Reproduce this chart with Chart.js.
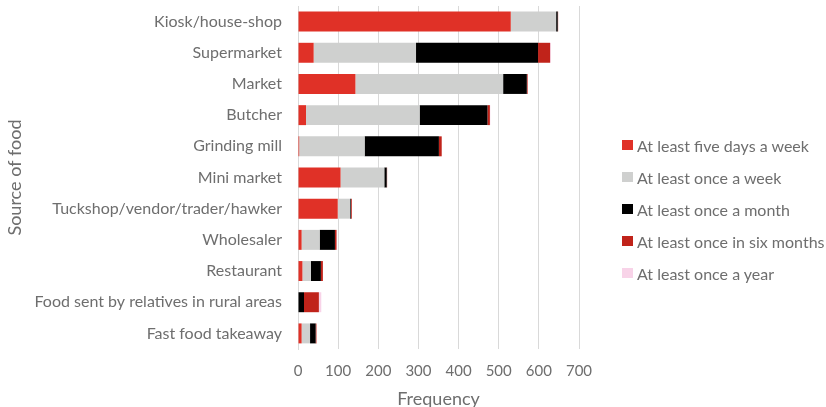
<!DOCTYPE html>
<html>
<head>
<meta charset="utf-8">
<script src="https://cdn.jsdelivr.net/npm/chart.js@4"></script>
<style>
  html, body { margin: 0; padding: 0; background: #fff; }
  #wrap { width: 826px; height: 407px; position: relative; }
  #legend { position: absolute; left: 622px; top: 129px; font-family: Lato, sans-serif; font-size: 16px; color: #6e6e6e; }
  #legend div { height: 32.1px; display: flex; align-items: center; white-space: nowrap; }
  #legend span.box { display: inline-block; width: 11px; height: 10px; margin-right: 4px; }
</style>
</head>
<body>
<div id="wrap"><canvas id="foodChart"></canvas><div id="legend"></div></div>
<script>
// sources of food (top to bottom)
const sources = ["Kiosk/house-shop", "Supermarket", "Market", "Butcher", "Grinding mill", "Mini market",
  "Tuckshop/vendor/trader/hawker", "Wholesaler", "Restaurant", "Food sent by relatives in rural areas", "Fast food takeaway"];

// frequency of use
const fiveDaysWeek = [530, 39, 143, 20, 3, 106, 99, 9, 11, 0, 9];
const onceWeek = [113, 255, 368, 283, 163, 109, 31, 45, 21, 0, 21];
const onceMonth = [4, 304, 59, 169, 185, 6, 2, 38, 25, 15, 14];
const onceSixMonths = [1, 30, 2, 6, 7, 1, 2, 4, 5, 37, 2];
const onceYear = [0, 2, 1, 1, 0, 0, 0, 1, 0, 6, 0];

const seriesNames = ["At least five days a week", "At least once a week", "At least once a month",
  "At least once in six months", "At least once a year"];
const seriesColours = ["#e03127", "#cfd0cf", "#000000", "#c0231a", "#f8d3e8"];

const freqTicks = [0, 100, 200, 300, 400, 500, 600, 700];

const textGrey = "#6e6e6e";
const fontName = "Lato";

const allSeries = [fiveDaysWeek, onceWeek, onceMonth, onceSixMonths, onceYear];

const chart = new Chart("foodChart", {
  type: "bar",
  data: {
    labels: sources,
    datasets: allSeries.map((vals, i) => ({
      label: seriesNames[i],
      data: vals,
      backgroundColor: seriesColours[i],
      borderWidth: 0,
      barPercentage: 0.64,
      categoryPercentage: 1
    }))
  },
  options: {
    indexAxis: "y",
    responsive: true,
    maintainAspectRatio: false,
    animation: false,
    layout: { padding: { top: 6, right: 247, bottom: 0, left: 0 } },
    plugins: {
      legend: { display: false },
      tooltip: { enabled: false }
    },
    scales: {
      x: {
        stacked: true,
        min: 0,
        max: 700,
        afterBuildTicks: (scale) => { scale.ticks = freqTicks.map(v => ({ value: v })) },
        afterFit: (scale) => { scale.height = 58 },
        grid: { color: "#d9d9d9", drawTicks: false },
        border: { display: false },
        ticks: { color: textGrey, padding: 13, font: { family: fontName, size: 15 } },
        title: { display: true, text: "Frequency", color: textGrey, font: { family: fontName, size: 18 }, padding: { top: 0, bottom: -3 } }
      },
      y: {
        stacked: true,
        afterFit: (scale) => {
          scale.width = 298
          scale.paddingTop = 0 // let the first band touch the top
          scale.paddingBottom = 0
        },
        grid: { display: false },
        border: { color: "#d9d9d9" },
        ticks: { color: textGrey, padding: 8, font: { family: fontName, size: 16 } },
        title: { display: true, text: "Source of food", color: textGrey, font: { family: fontName, size: 18 } }
      }
    }
  }
});

// legend built from the chart's own datasets
const legendDiv = document.getElementById("legend");
chart.data.datasets.forEach(ds => {
  const row = document.createElement("div");
  const box = document.createElement("span");
  box.className = "box";
  box.style.background = ds.backgroundColor;
  row.appendChild(box);
  row.appendChild(document.createTextNode(ds.label));
  legendDiv.appendChild(row);
});
</script>
</body>
</html>
